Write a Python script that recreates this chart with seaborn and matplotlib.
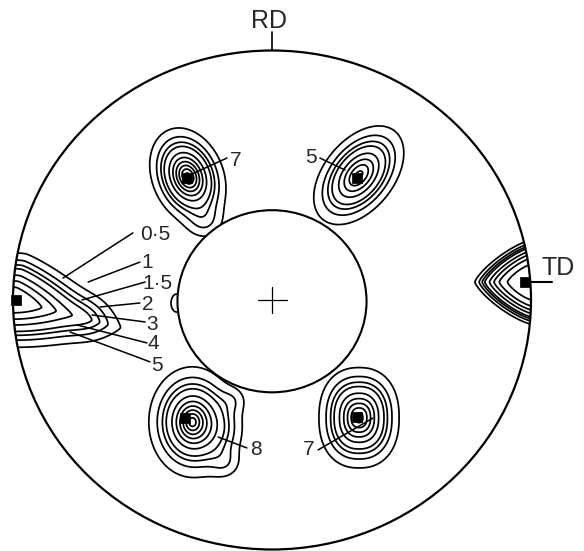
import numpy as np
import matplotlib
matplotlib.use("Agg")
import matplotlib.pyplot as plt
import seaborn as sns
import pandas as pd
from matplotlib.patches import Ellipse

sns.set_theme(style="white")
plt.rcParams["font.family"] = ["Liberation Sans", "DejaVu Sans"]

# ---- data: contour levels of the pole figure ----
levels = [0.5, 1, 1.5, 2, 3, 4, 5, 6, 7, 8]

# ---- data: intensity peaks (pole figure unit-circle coordinates) ----
peak_names = ["TL", "TR", "BLcore", "BLside", "BR", "LEFT", "TD", "TLtail",
              "BLlobe1", "BLlobe2", "LEFTlobe", "bump"]
peak_x     = [-0.325, 0.335, -0.308, -0.215, 0.336, -1.000, 1.000, -0.259,
              -0.150, -0.180, -0.705, -0.368]
peak_y     = [ 0.495, 0.500, -0.489, -0.520, -0.472, 0.000, 0.072,  0.313,
              -0.400, -0.655, -0.070, -0.012]
peak_amp   = [ 8.6,   6.4,   8.6,    0.9,    7.6,   6.0,   6.5,    0.7,
               0.5,    0.6,    0.5,    0.9]
peak_su    = [ 0.058, 0.076, 0.044,  0.060,  0.050, 0.190, 0.144,  0.045,
               0.035,  0.040,  0.055,  0.020]
peak_sv    = [ 0.040, 0.046, 0.058,  0.075,  0.065, 0.086, 0.112,  0.045,
               0.035,  0.040,  0.055,  0.033]
peak_angle = [-70.0,  53.0,  0.0,    0.0,    0.0,  -15.0,  0.0,    0.0,
               0.0,    0.0,    0.0,    0.0]
peak_p     = [ 2.0,   2.0,   2.0,    2.0,    2.3,   1.3,   1.3,    2.0,
               2.0,    2.0,    2.0,    2.0]
peak_q     = [ 1.4,   1.5,   1.3,    2.0,    1.5,   2.0,   4.0,    2.0,
               2.0,    2.0,    2.0,    2.0]

# maxima markers (small black squares)
max_x = [-0.328, 0.328, -0.336, 0.328, -0.990, 0.978]
max_y = [ 0.489, 0.489, -0.473, -0.469, 0.000, 0.072]

# labels for the left peak contours
left_labels = ["0·5", "1", "1·5", "2", "3", "4", "5"]
blob_labels = ["7", "5", "8", "7"]

# ---- build the intensity field ----
gx = np.linspace(-1.06, 1.22, 700)
gy = np.linspace(-1.02, 1.22, 700)
X, Y = np.meshgrid(gx, gy)
Z = np.zeros_like(X)
for x0, y0, a, su, sv, ang, p, q in zip(peak_x, peak_y, peak_amp, peak_su, peak_sv,
                                         peak_angle, peak_p, peak_q):
    t = np.deg2rad(ang)
    dx, dy = X - x0, Y - y0
    u = dx * np.cos(t) + dy * np.sin(t)
    v = -dx * np.sin(t) + dy * np.cos(t)
    n = (np.abs(u / su) ** p + np.abs(v / sv) ** p) ** (1.0 / p)
    Z += a * np.exp(-0.5 * n ** q)

inner_r = 0.365
R = np.hypot(X, Y + 0.005)
Z = np.where(R < inner_r, np.nan, Z)

# ---- figure ----
fig = plt.figure(figsize=(5.84, 5.51), dpi=100)
ax = fig.add_axes([0, 0, 1, 1])

outer = Ellipse((0, 0), 2.0, 2.0, fill=False, lw=1.6, color="black", zorder=3)
ax.add_patch(outer)
inner = Ellipse((0, -0.005), 2 * inner_r, 2 * inner_r, fill=False, lw=1.5, color="black", zorder=3)
ax.add_patch(inner)

cs = ax.contour(X, Y, Z, levels=levels, colors="black", linewidths=1.25, zorder=2)
clip = Ellipse((0, 0), 2.0, 2.0, transform=ax.transData)
cs.set_clip_path(clip)

# maxima markers
sns.scatterplot(data=pd.DataFrame({"x": max_x, "y": max_y}), x="x", y="y",
                marker="s", s=45, color="black", edgecolor="black", ax=ax, zorder=4)
ax.set_xlim(-1.0502, 1.2046)
ax.set_ylim(-1.006, 1.2024)
ax.axis("off")

# central cross
ax.plot([-0.056, 0.056], [0, 0], color="black", lw=0.9)
ax.plot([0.0, 0.0], [-0.052, 0.052], color="black", lw=0.9)

# RD / TD
ax.plot([0.0, 0.0], [1.0, 1.074], color="black", lw=1.2)
ax.text(-0.012, 1.118, "RD", fontsize=18, ha="center", va="center")
ax.plot([1.0, 1.081], [0.072, 0.072], color="black", lw=1.5)
ax.text(1.042, 0.130, "TD", fontsize=18, ha="left", va="center")

# left peak labels with leaders
lt_x = [-0.452, -0.483, -0.444, -0.479, -0.463, -0.459, -0.444]
lt_y = [0.261, 0.152, 0.068, -0.020, -0.100, -0.176, -0.261]
ls_x = [-0.537, -0.510, -0.490, -0.510, -0.490, -0.483, -0.471]
ls_y = [0.269, 0.152, 0.072, -0.012, -0.088, -0.172, -0.248]
le_x = [-0.807, -0.710, -0.734, -0.664, -0.695, -0.753, -0.780]
le_y = [0.088, 0.072, 0.000, -0.028, -0.060, -0.100, -0.128]
for lab, tx, ty, sx, sy, ex, ey in zip(left_labels, lt_x, lt_y, ls_x, ls_y, le_x, le_y):
    ax.plot([sx, ex], [sy, ey], color="black", lw=1.1)
    ax.text(tx, ty, lab, fontsize=15, ha="center", va="center")

bt_x = [-0.139, 0.151, -0.062, 0.143]
bt_y = [0.561, 0.573, -0.601, -0.601]
bs_x = [-0.174, 0.185, -0.097, 0.178]
bs_y = [0.569, 0.569, -0.593, -0.601]
be_x = [-0.317, 0.282, -0.208, 0.390]
be_y = [0.501, 0.521, -0.549, -0.473]
for lab, tx, ty, sx, sy, ex, ey in zip(blob_labels, bt_x, bt_y, bs_x, bs_y, be_x, be_y):
    ax.plot([sx, ex], [sy, ey], color="black", lw=1.1, zorder=5)
    ax.text(tx, ty, lab, fontsize=15, ha="center", va="center")

fig.savefig("out.png", dpi=100, facecolor="white")
